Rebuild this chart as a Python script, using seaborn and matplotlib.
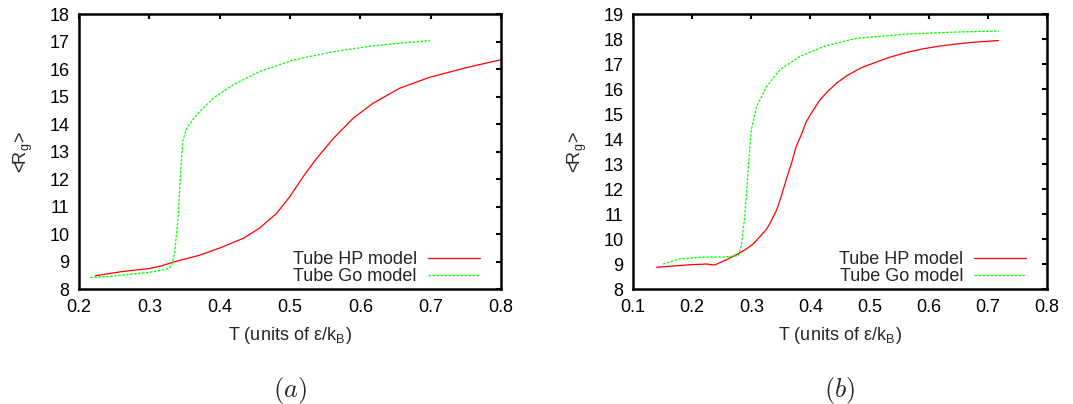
import numpy as np
import pandas as pd
import seaborn as sns
import matplotlib.pyplot as plt

# panel (a) values
a_hp_T = [0.223, 0.26, 0.301, 0.317, 0.334, 0.37, 0.40, 0.434, 0.457, 0.481, 0.50, 0.519, 0.538,
          0.562, 0.59, 0.618, 0.656, 0.699, 0.751, 0.799]
a_hp_R = [8.48, 8.63, 8.75, 8.84, 8.98, 9.22, 9.49, 9.85, 10.22, 10.76, 11.37, 12.10, 12.76,
          13.49, 14.22, 14.76, 15.31, 15.71, 16.06, 16.34]
a_go_T = [0.216, 0.244, 0.301, 0.327, 0.332, 0.336, 0.341, 0.3436, 0.346, 0.348, 0.353,
          0.367, 0.391, 0.419, 0.457, 0.505, 0.562, 0.609, 0.656, 0.699]
a_go_R = [8.42, 8.46, 8.61, 8.73, 8.88, 9.31, 10.64, 11.85, 12.82, 13.43, 13.85,
          14.34, 14.95, 15.43, 15.92, 16.34, 16.64, 16.82, 16.95, 17.04]

# panel (b)
b_hp_T = [0.14, 0.196, 0.224, 0.238, 0.258, 0.28, 0.292, 0.303, 0.314, 0.326, 0.334,
          0.343, 0.351, 0.359, 0.368, 0.376, 0.385, 0.393, 0.405, 0.416, 0.430, 0.444,
          0.461, 0.484, 0.506, 0.534, 0.562, 0.591, 0.619, 0.647, 0.675, 0.718]
b_hp_R = [8.87, 8.97, 9.00, 8.96, 9.17, 9.44, 9.61, 9.80, 10.08, 10.40, 10.74,
          11.17, 11.74, 12.37, 13.04, 13.71, 14.20, 14.70, 15.17, 15.57, 15.93, 16.24,
          16.53, 16.84, 17.04, 17.28, 17.47, 17.62, 17.73, 17.81, 17.88, 17.95]
b_go_T = [0.151, 0.179, 0.213, 0.252, 0.278, 0.283, 0.289, 0.295, 0.300, 0.309, 0.326,
          0.348, 0.382, 0.422, 0.478, 0.563, 0.647, 0.719]
b_go_R = [9.00, 9.20, 9.27, 9.28, 9.33, 9.71, 10.91, 12.91, 14.37, 15.31, 16.11,
          16.77, 17.31, 17.71, 18.04, 18.21, 18.29, 18.33]

labels = ["Tube HP model", "Tube Go model"]

sns.set_style("white")
plt.rcParams['font.family'] = ['Liberation Sans', 'DejaVu Sans']
plt.rcParams['mathtext.fontset'] = 'cm'

fig = plt.figure(figsize=(10.73, 4.04), dpi=100)
W, H = 1073, 404
ax1 = fig.add_axes([79 / W, 1 - 289 / H, (501 - 79) / W, (289 - 14.3) / H])
ax2 = fig.add_axes([633 / W, 1 - 289 / H, (1047 - 633) / W, (289 - 14.3) / H])


def draw(ax, hpT, hpR, goT, goR, xlim, ylim, xticks, yticks, tag, right_px):
    sns.lineplot(x=hpT, y=hpR, ax=ax, color='#ff0000', lw=0.9, label=labels[0], sort=False)
    sns.lineplot(x=goT, y=goR, ax=ax, color='#00ff00', lw=0.9, label=labels[1], sort=False,
                 linestyle=(0, (2, 1.2)))
    ax.set_xlim(*xlim)
    ax.set_ylim(*ylim)
    ax.set_xticks(xticks)
    ax.set_yticks(yticks)
    ax.set_xticklabels([f"{t:g}" for t in xticks])
    ax.tick_params(direction='in', length=3.8, width=1.5, top=True, right=True,
                   labelsize=13, pad=7, colors='black')
    for s in ax.spines.values():
        s.set_linewidth(1.8)
        s.set_color('black')
    ax.set_xlabel("T (units of ε/k$_\\mathregular{B}$)", fontsize=13, labelpad=7)
    ax.set_ylabel("<R$_\\mathregular{g}$>", fontsize=13, labelpad=10)
    leg = ax.legend(loc='lower right', frameon=False, markerfirst=False, fontsize=13,
                    handlelength=2.9, borderpad=0, borderaxespad=0,
                    bbox_to_anchor=(right_px, 0.015),
                    labelspacing=0.0, handletextpad=0.6)
    for t in leg.get_texts():
        t.set_ha('right')
    ax.text(0.5, -0.37, tag, transform=ax.transAxes, ha='center', va='center', fontsize=19)


draw(ax1, a_hp_T, a_hp_R, a_go_T, a_go_R, (0.2, 0.8), (8, 18),
     [0.2, 0.3, 0.4, 0.5, 0.6, 0.7, 0.8], list(range(8, 19)), r"$(a)$", 0.950)
draw(ax2, b_hp_T, b_hp_R, b_go_T, b_go_R, (0.1, 0.8), (8, 19),
     [0.1, 0.2, 0.3, 0.4, 0.5, 0.6, 0.7, 0.8], list(range(8, 20)), r"$(b)$", 0.950)

fig.savefig("out.png", dpi=100)
